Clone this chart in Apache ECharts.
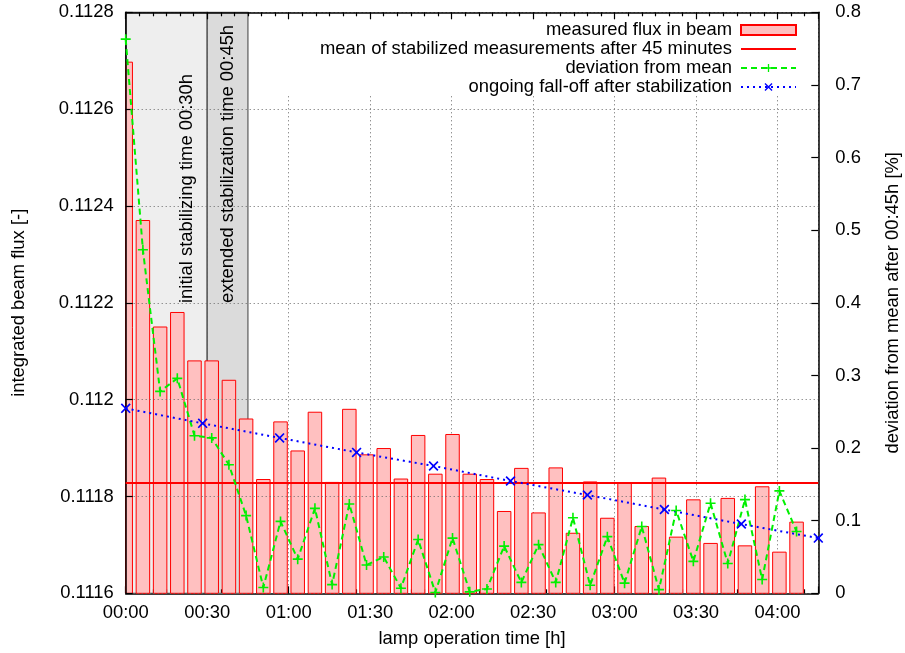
<!DOCTYPE html>
<html>
<head>
<meta charset="utf-8">
<script src="https://cdn.jsdelivr.net/npm/echarts@6/dist/echarts.min.js"></script>
<style>html,body{margin:0;padding:0;background:#fff;}#c{width:905px;height:653px;}</style>
</head>
<body>
<div id="c"></div>
<script>
// time of each measurement in minutes
var barTimes = [0, 6.33, 12.67, 19, 25.33, 31.67, 38, 44.33, 50.67, 57,
  63.33, 69.67, 76, 82.33, 88.67, 95, 101.33, 107.67, 114, 120.33,
  126.67, 133, 139.33, 145.67, 152, 158.33, 164.67, 171, 177.33, 183.67,
  190, 196.33, 202.67, 209, 215.33, 221.67, 228, 234.33, 240.67, 247];
// measured flux in beam
var fluxValues = [0.112697, 0.11237, 0.11215, 0.11218, 0.11208, 0.11208, 0.11204, 0.11196, 0.111835, 0.111954,
  0.111894, 0.111974, 0.111829, 0.11198, 0.111886, 0.111899, 0.111836, 0.111926, 0.111846, 0.111928,
  0.111846, 0.111835, 0.111769, 0.111858, 0.111766, 0.111859, 0.111724, 0.11183, 0.111755, 0.111828,
  0.111738, 0.111838, 0.111716, 0.111793, 0.111703, 0.111796, 0.111698, 0.11182, 0.111685, 0.111747];
// deviation from mean [%]
var deviationValues = [0.763, 0.473, 0.278, 0.296, 0.217, 0.214, 0.177, 0.107, 0.008, 0.099,
  0.047, 0.117, 0.012, 0.123, 0.039, 0.050, 0.007, 0.074, 0.001, 0.076,
  0.002, 0.006, 0.065, 0.015, 0.067, 0.015, 0.104, 0.011, 0.078, 0.014,
  0.092, 0.005, 0.114, 0.044, 0.124, 0.041, 0.129, 0.019, 0.141, 0.085];
// ongoing fall-off after stabilization
var falloffTimes = [0, 28.33, 56.67, 85, 113.33, 141.67, 170, 198.33, 226.67, 255];
var falloffValues = [0.111982, 0.111951, 0.111921, 0.111891, 0.111863, 0.111832, 0.111803, 0.111773, 0.111743, 0.111714];
// mean of stabilized measurements after 45 minutes
var meanTimes = [0, 255];
var meanValue = 0.111828;
// stabilization periods (minutes)
var initialPeriod = [0, 30];
var extendedPeriod = [30, 45];
var xMax = 255;
var leftTicks = {min: 0.1116, max: 0.1128, interval: 0.0002};
var rightTicks = {min: 0, max: 0.8, interval: 0.1};

var FONT = 'Liberation Sans';
var FS = 18.4;
function pair(xs, ys) { return xs.map(function (x, i) { return [x, ys[i]]; }); }
function hhmm(v) {
  var m = Math.round(v);
  var h = Math.floor(m / 60), mm = m % 60;
  return (h < 10 ? '0' : '') + h + ':' + (mm < 10 ? '0' : '') + mm;
}
var plusPath = 'path://M4.2,0H5.8V4.2H10V5.8H5.8V10H4.2V5.8H0V4.2H4.2Z';
var crossPath = 'path://M0,1.2L1.2,0L5,3.8L8.8,0L10,1.2L6.2,5L10,8.8L8.8,10L5,6.2L1.2,10L0,8.8L3.8,5Z';
var BAR_W = 13.5;

function renderBar(params, api) {
  var t = api.value(0), v = api.value(1);
  var top = api.coord([t, v]);
  var bot = api.coord([t, leftTicks.min]);
  var cs = params.coordSys;
  var r = echarts.graphic.clipRectByRect(
    {x: top[0] - BAR_W / 2, y: top[1], width: BAR_W, height: bot[1] - top[1]},
    {x: cs.x, y: cs.y, width: cs.width, height: cs.height});
  if (!r) return null;
  return {type: 'rect', shape: r, style: {fill: '#ffc0c0', stroke: '#ff0000', lineWidth: 1}};
}

var chart = echarts.init(document.getElementById('c'));
var gridLine = {show: true, lineStyle: {color: '#666', width: 1, type: [1, 3]}};
var option = {
  animation: false,
  textStyle: {fontFamily: FONT},
  grid: {left: 125.7, right: 86.7, top: 12.3, bottom: 59.7, containLabel: false, outerBoundsMode: 'none'},
  legend: {
    orient: 'vertical', align: 'right', right: 108, top: 21, padding: 0,
    itemWidth: 55, itemHeight: 10, itemGap: 1,
    textStyle: {fontFamily: FONT, fontSize: FS, color: '#000', lineHeight: 18, padding: [0, 4, 0, 0]},
    data: [
      {name: 'measured flux in beam', icon: 'rect'},
      {name: 'mean of stabilized measurements after 45 minutes'},
      {name: 'deviation from mean'},
      {name: 'ongoing fall-off after stabilization'}
    ]
  },
  graphic: [
    {type: 'rect', z: 1, silent: true, shape: {x: 252, y: 14, width: 565, height: 81}, style: {fill: '#fff'}},
    {type: 'text', z: 5, x: 187, y: 303, rotation: Math.PI / 2,
      style: {text: 'initial stabilizing time 00:30h', font: FS + 'px "' + FONT + '"', fill: '#000', align: 'left', verticalAlign: 'middle'}},
    {type: 'text', z: 5, x: 228, y: 303, rotation: Math.PI / 2,
      style: {text: 'extended stabilization time 00:45h', font: FS + 'px "' + FONT + '"', fill: '#000', align: 'left', verticalAlign: 'middle'}}
  ],
  xAxis: [{
    type: 'value', min: 0, max: xMax, interval: 30, position: 'bottom',
    name: 'lamp operation time [h]', nameLocation: 'middle', nameGap: 37,
    nameTextStyle: {fontFamily: FONT, fontSize: FS, color: '#000'},
    axisLine: {show: true, onZero: false, lineStyle: {color: '#000', width: 1.5}},
    axisTick: {show: true, inside: true, length: 7, lineStyle: {color: '#000', width: 1.2}},
    minorTick: {show: true, splitNumber: 6, length: 4, lineStyle: {color: '#000', width: 1.2}},
    axisLabel: {formatter: hhmm, fontFamily: FONT, fontSize: FS, color: '#000', margin: 11, showMaxLabel: false},
    splitLine: gridLine
  }, {
    type: 'value', min: 0, max: xMax, interval: 30, position: 'top', z: 3,
    axisLine: {show: true, onZero: false, lineStyle: {color: '#000', width: 1.5}},
    axisTick: {show: true, inside: true, length: 7, lineStyle: {color: '#000', width: 1.2}},
    minorTick: {show: true, splitNumber: 6, length: 4, lineStyle: {color: '#000', width: 1.2}},
    axisLabel: {show: false}, splitLine: {show: false}
  }],
  yAxis: [{
    type: 'value', min: leftTicks.min, max: leftTicks.max, interval: leftTicks.interval, position: 'left', z: 3,
    name: 'integrated beam flux [-]', nameLocation: 'middle', nameGap: 98, nameRotate: 90,
    nameTextStyle: {fontFamily: FONT, fontSize: FS, color: '#000'},
    axisLine: {show: true, onZero: false, lineStyle: {color: '#000', width: 1.5}},
    axisTick: {show: true, inside: true, length: 7, lineStyle: {color: '#000', width: 1.2}},
    axisLabel: {formatter: function (v) { return String(parseFloat(v.toFixed(4))); }, fontFamily: FONT, fontSize: FS, color: '#000', margin: 12},
    splitLine: gridLine
  }, {
    type: 'value', min: rightTicks.min, max: rightTicks.max, interval: rightTicks.interval, position: 'right', z: 3,
    name: 'deviation from mean after 00:45h [%]', nameLocation: 'middle', nameGap: 66, nameRotate: 90,
    nameTextStyle: {fontFamily: FONT, fontSize: FS, color: '#000'},
    axisLine: {show: true, onZero: false, lineStyle: {color: '#000', width: 1.5}},
    axisTick: {show: true, inside: true, length: 7, lineStyle: {color: '#000', width: 1.2}},
    axisLabel: {formatter: function (v) { return String(parseFloat(v.toFixed(1))); }, fontFamily: FONT, fontSize: FS, color: '#000', margin: 17},
    splitLine: {show: false}
  }],
  series: [
    {
      name: 'stabilization', type: 'line', data: [], z: 1, silent: true,
      markArea: {
        silent: true,
        itemStyle: {color: 'rgba(0,0,0,0.065)', borderColor: '#444', borderWidth: 1.3},
        data: [
          [{xAxis: initialPeriod[0]}, {xAxis: initialPeriod[1]}],
          [{xAxis: extendedPeriod[0], itemStyle: {color: 'rgba(0,0,0,0.14)', borderColor: '#666'}}, {xAxis: extendedPeriod[1]}]
        ]
      }
    },
    {
      name: 'measured flux in beam', type: 'custom', xAxisIndex: 0, yAxisIndex: 0,
      data: pair(barTimes, fluxValues), encode: {x: 0, y: 1}, z: 2, renderItem: renderBar,
      itemStyle: {color: '#ffc0c0', borderColor: '#ff0000', borderWidth: 1}
    },
    {
      name: 'mean of stabilized measurements after 45 minutes', type: 'line', xAxisIndex: 0, yAxisIndex: 0,
      data: pair(meanTimes, [meanValue, meanValue]), symbol: 'circle', showSymbol: false, z: 3,
      lineStyle: {color: '#ff0000', width: 2}, itemStyle: {color: 'rgba(0,0,0,0)', borderWidth: 0}
    },
    {
      name: 'deviation from mean', type: 'line', xAxisIndex: 0, yAxisIndex: 1,
      data: pair(barTimes, deviationValues), symbol: plusPath, symbolSize: 10, z: 4,
      lineStyle: {color: '#00f000', width: 2, type: [6, 4]}, itemStyle: {color: '#00f000'}
    },
    {
      name: 'ongoing fall-off after stabilization', type: 'line', xAxisIndex: 0, yAxisIndex: 0,
      data: pair(falloffTimes, falloffValues), symbol: crossPath, symbolSize: 10, z: 4,
      lineStyle: {color: '#0000ff', width: 2, type: [2, 4]}, itemStyle: {color: '#0000ff'}
    }
  ]
};
chart.setOption(option);
</script>
</body>
</html>
